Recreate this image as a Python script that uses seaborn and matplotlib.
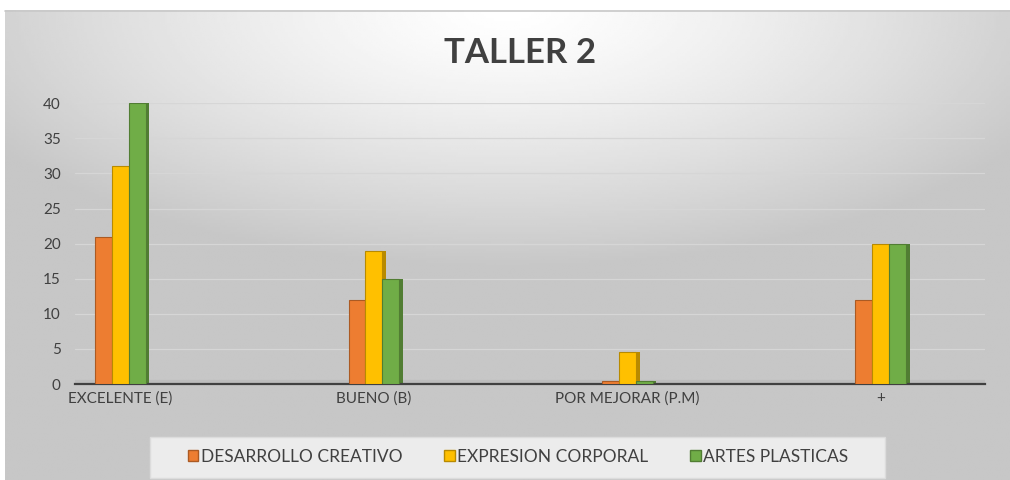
import matplotlib.pyplot as plt
import matplotlib.colors as mcolors
from matplotlib.patches import Rectangle
import pandas as pd
import seaborn as sns
import numpy as np

# Data
categorias = ['EXCELENTE (E)', 'BUENO (B)', 'POR MEJORAR (P.M)', '+']
series = ['DESARROLLO CREATIVO', 'EXPRESION CORPORAL', 'ARTES PLASTICAS']
desarrollo_creativo = [21, 12, 0.4, 12]
expresion_corporal = [31, 19, 4.5, 20]
artes_plasticas = [40, 15, 0.4, 20]
colores = ['#ED7D31', '#FFC000', '#70AD47']

df = pd.DataFrame({
    'categoria': categorias * 3,
    'serie': [s for s in series for _ in categorias],
    'valor': desarrollo_creativo + expresion_corporal + artes_plasticas,
})

sns.set_style('white')
plt.rcParams['font.family'] = ['Lato', 'DejaVu Sans']

fig = plt.figure(figsize=(10.1, 4.8), dpi=100)

# light gradient background like the office chart, white strip at the top
bg = fig.add_axes([0, 0, 1, 1], zorder=-10)
bg.set_xlim(0, 1)
bg.set_ylim(0, 1)
yy, xx = np.mgrid[0:1:200j, 0:1:400j]
r = np.sqrt(((xx - 0.5) * 1.0) ** 2 + ((yy - 0.0) * 1.1) ** 2)
bg.imshow(1 - 0.22 * np.clip(r / 0.6, 0, 1) ** 1.3, cmap='gray', vmin=0, vmax=1,
          aspect='auto', extent=[0.005, 1, 0, 0.978], origin='upper')
bg.axis('off')
bg.plot([0.005, 1], [0.978, 0.978], color='#c8c8c8', lw=1.2)

ax = fig.add_axes([0.074, 0.2, 0.901, 0.585])
ax.patch.set_alpha(0)

sns.barplot(data=df, x='categoria', y='valor', hue='serie', palette=colores,
            width=0.2, ax=ax, saturation=1, gap=0, legend=False, zorder=3)

# darker side face to mimic the 3D look
for bar in list(ax.patches):
    c = bar.get_facecolor()
    dark = tuple(np.array(mcolors.to_rgb(c)) * 0.72)
    bar.set_edgecolor(dark)
    bar.set_linewidth(0.8)
    x, w, h = bar.get_x(), bar.get_width(), bar.get_height()
    ax.add_patch(Rectangle((x + w, 0), w * 0.22, h, facecolor=dark,
                           edgecolor='none', zorder=2, clip_on=False))

ax.set_xlim(-0.18, 3.41)
ax.set_ylim(0, 40)
ax.set_yticks(range(0, 41, 5))
ax.yaxis.grid(True, color='#d6d6d6', lw=0.9, zorder=0)
ax.set_axisbelow(True)
for s in ['top', 'right', 'left']:
    ax.spines[s].set_visible(False)
ax.spines['bottom'].set_color('#404040')
ax.spines['bottom'].set_linewidth(1.6)
ax.tick_params(axis='both', length=0, labelsize=11, labelcolor='#404040')
ax.tick_params(axis='y', pad=10)
ax.tick_params(axis='x', pad=5)
ax.set_xlabel('')
ax.set_ylabel('')

# grey floor strip behind the base line
ax.axhspan(0, 0.6, color='#bdbdbd', zorder=1)

fig.text(0.515, 0.89, 'TALLER 2', ha='center', va='center', fontsize=25,
         fontweight='bold', color='#404040')

# legend box
fig.patches.append(Rectangle((150 / 1010, 2 / 480), 735 / 1010, 41 / 480,
                             transform=fig.transFigure, facecolor='#ececec',
                             edgecolor='#dcdcdc', lw=1, zorder=-5))
handles = [Rectangle((0, 0), 1, 1, facecolor=c,
                     edgecolor=tuple(np.array(mcolors.to_rgb(c)) * 0.72))
           for c in colores]
leg = fig.legend(handles, series, loc='center', bbox_to_anchor=(0.513, 0.048),
                 ncol=3, fontsize=12.5, frameon=False, handlelength=0.6,
                 handleheight=0.6, handletextpad=0.15, columnspacing=2.4)
for t in leg.get_texts():
    t.set_color('#404040')

fig.savefig('out.png', dpi=100)
